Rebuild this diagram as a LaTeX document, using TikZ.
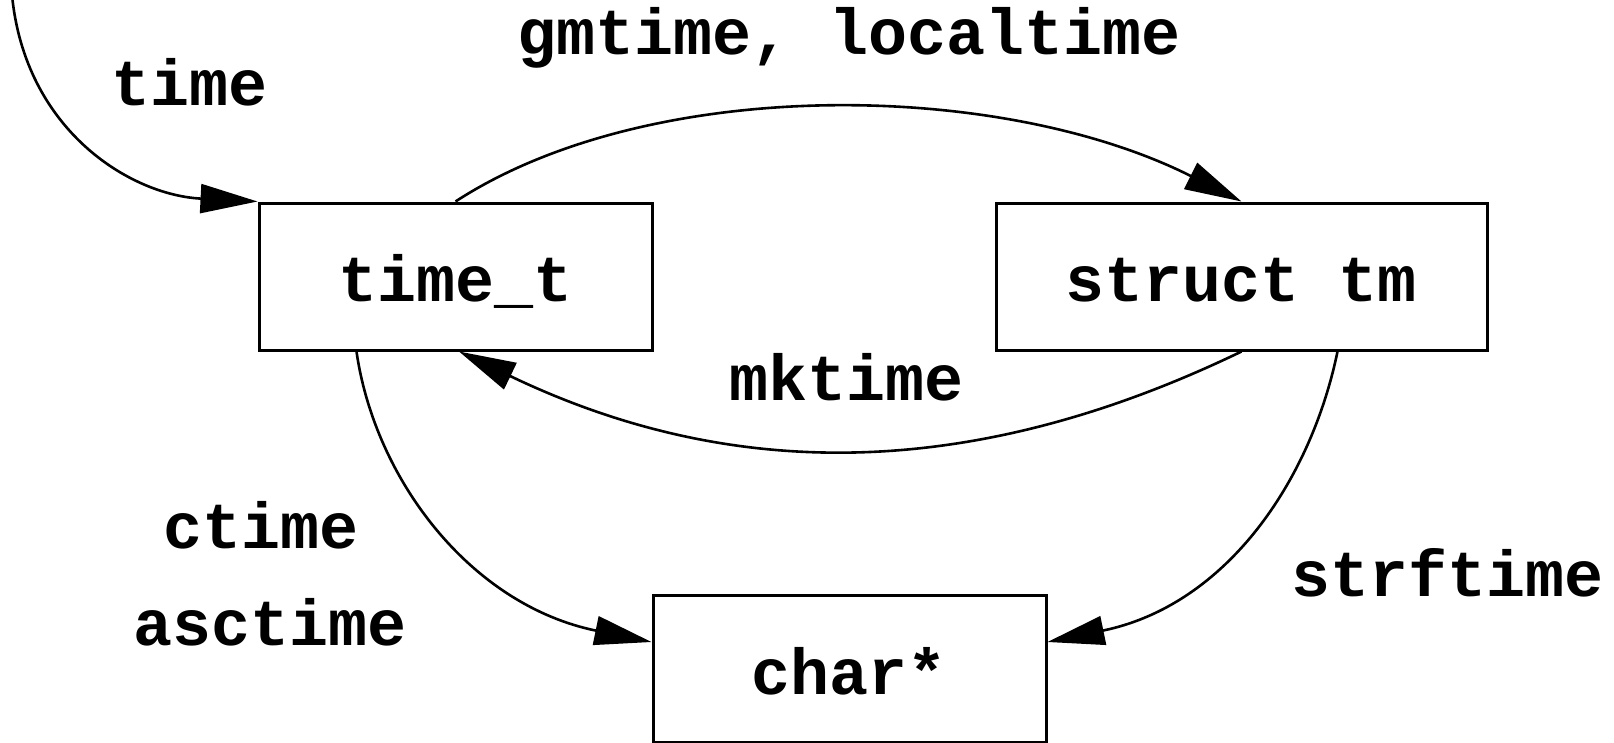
\documentclass[tikz,border=0pt]{standalone}
\usepackage{fontspec}
\setmainfont{Liberation Mono}
\usetikzlibrary{arrows.meta}
\newcommand\lblfont{\fontsize{65}{78}\selectfont\bfseries}
\begin{document}
\begin{tikzpicture}[x=1pt,y=-1pt,
  box/.style={draw, rectangle, line width=3pt, inner sep=0pt, minimum height=147pt, text height=50pt, text depth=0pt, font=\lblfont},
  lbl/.style={anchor=base, font=\lblfont, inner sep=0pt},
  conn/.style={line width=2.6pt, -{Triangle[length=57pt,width=29pt]}}]
\useasboundingbox (0,0) rectangle (1614,742);
\node[box, minimum width=393pt] (tt) at (455.5,276.5) {time\_t};
\node[box, minimum width=491pt] (st) at (1241.5,276.5) {struct tm};
\node[box, minimum width=393pt] (ch) at (849.5,669) {char*};
\coordinate (tstart) at (12,-5);
\draw[conn] (tstart) .. controls (25,130) and (130,195) .. (tt.north west);
\draw[conn] (tt.north) .. controls (650,75) and (1000,80) .. (st.north);
\draw[conn] (st.south) .. controls (971,482) and (731,482) .. ([xshift=3.5pt]tt.south);
\draw[conn] ([xshift=99pt]tt.south west) .. controls (375,480) and (471,605) .. ([yshift=-48pt]ch.north west);
\draw[conn] ([xshift=343pt]st.south west) .. controls (1311,480) and (1227,605) .. ([yshift=-48pt]ch.north east);
\node[lbl] (lgm) at (849,54) {gmtime, localtime};
\node[lbl] (ltime) at (190,105) {time};
\node[lbl] (lmk) at (847,400) {mktime};
\node[lbl] (lct) at (261,548) {ctime};
\node[lbl] (lasc) at (270,645) {asctime};
\node[lbl] (lstrf) at (1448,596) {strftime};
\end{tikzpicture}
\end{document}
